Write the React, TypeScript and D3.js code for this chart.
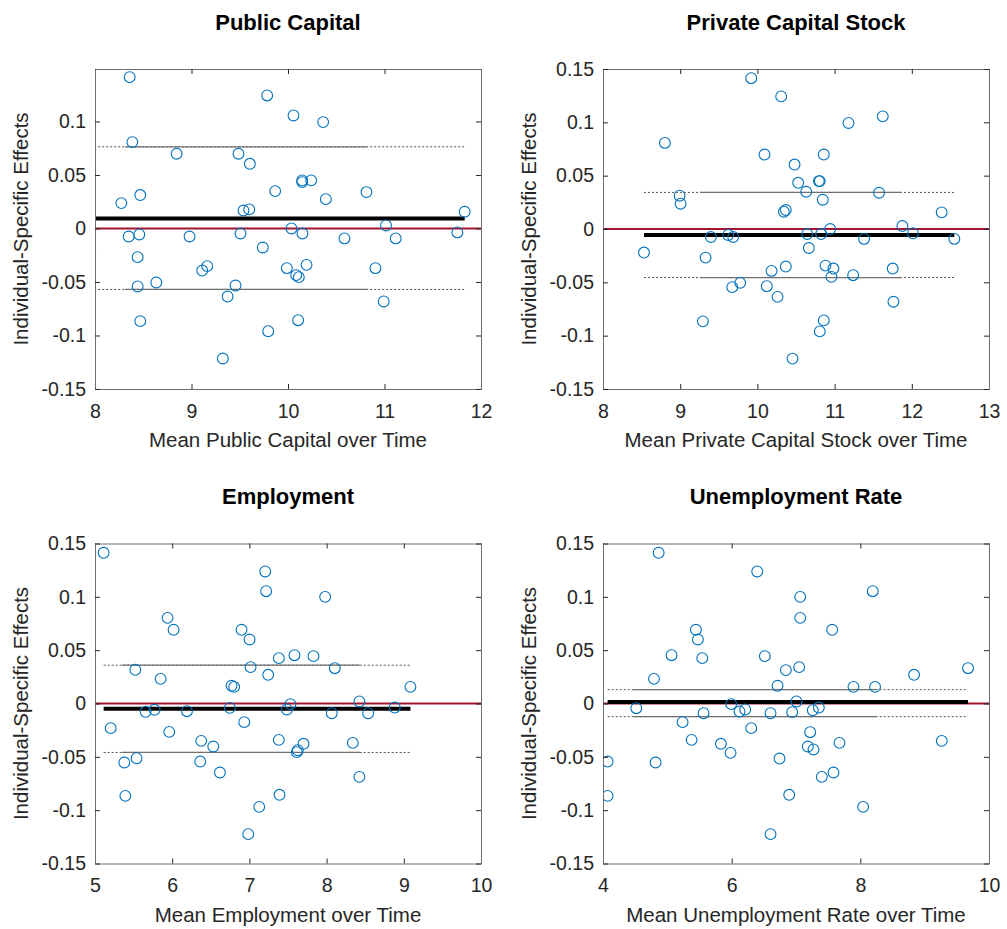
import React, { useEffect, useRef } from 'react'
import * as d3 from 'd3'

// Public Capital panel (last point lies left of the axis limit and is clipped)
const pubCapX = [8.359, 9.784, 10.057, 10.364, 8.387, 8.846, 9.487, 9.605, 10.147, 10.24, 10.147, 9.867, 8.469, 8.273, 10.813, 10.392, 9.539, 9.598, 11.831, 11.016, 10.036, 8.349, 8.459, 8.98, 9.508, 10.15, 10.585, 11.116, 11.755, 9.739, 8.442, 9.111, 9.163, 9.988, 10.192, 10.085, 10.112, 10.906, 8.635, 8.442, 9.456, 9.374, 10.992, 8.469, 10.105, 9.795, 9.325, 7.95]
const pubCapY = [0.1414, 0.1243, 0.1056, 0.0994, 0.0807, 0.0698, 0.0698, 0.0604, 0.0449, 0.0449, 0.0433, 0.0349, 0.0312, 0.0237, 0.034, 0.0274, 0.0168, 0.0178, 0.0156, 0.0028, 0.0, -0.0075, -0.0056, -0.0075, -0.0047, -0.0047, -0.0093, -0.0093, -0.0037, -0.0178, -0.0268, -0.0393, -0.0352, -0.0371, -0.034, -0.0436, -0.0455, -0.0371, -0.0505, -0.0542, -0.0533, -0.0636, -0.0682, -0.0866, -0.0857, -0.096, -0.1215, -0.0221]

const privCapX = [9.92, 10.308, 11.18, 11.624, 8.802, 10.092, 10.86, 10.481, 10.528, 10.796, 10.808, 10.632, 10.847, 11.576, 8.992, 9.005, 10.343, 10.368, 12.387, 11.878, 10.942, 12.016, 9.398, 9.622, 9.687, 10.645, 10.826, 11.382, 12.551, 8.531, 10.666, 9.329, 10.183, 10.368, 10.882, 10.985, 10.959, 11.24, 11.753, 9.777, 9.674, 10.122, 10.261, 11.762, 9.294, 10.86, 10.808, 10.455]
const privCapY = [0.1414, 0.1243, 0.0994, 0.1056, 0.0807, 0.0698, 0.0698, 0.0604, 0.0433, 0.0449, 0.0449, 0.0349, 0.0274, 0.034, 0.0312, 0.0237, 0.0162, 0.0178, 0.0156, 0.0028, 0.0, -0.004, -0.0075, -0.0056, -0.0075, -0.0047, -0.0047, -0.0093, -0.0093, -0.0221, -0.0178, -0.0268, -0.0393, -0.0352, -0.0343, -0.0371, -0.0449, -0.0433, -0.0371, -0.0505, -0.0545, -0.0536, -0.0636, -0.0682, -0.0866, -0.0857, -0.096, -0.1215]

const emplX = [5.112, 7.205, 7.217, 7.981, 5.94, 6.018, 6.898, 7.002, 7.381, 7.584, 7.83, 7.015, 7.243, 8.106, 5.522, 5.85, 6.769, 6.803, 9.086, 8.425, 7.532, 8.883, 5.656, 5.772, 6.191, 6.747, 7.485, 8.067, 8.538, 5.203, 6.933, 5.962, 6.376, 6.532, 7.381, 7.701, 7.614, 7.627, 8.339, 5.539, 5.38, 6.363, 6.618, 8.425, 5.393, 7.39, 7.127, 6.985]
const emplY = [0.1413, 0.1238, 0.1053, 0.1, 0.0803, 0.0691, 0.0691, 0.06, 0.0425, 0.0453, 0.0444, 0.0341, 0.0269, 0.0331, 0.0316, 0.0231, 0.0166, 0.0156, 0.0156, 0.0019, -0.0006, -0.0038, -0.0078, -0.0059, -0.0072, -0.0041, -0.0056, -0.0091, -0.0091, -0.0231, -0.0175, -0.0266, -0.035, -0.0403, -0.0341, -0.0378, -0.0456, -0.0438, -0.0369, -0.0513, -0.0553, -0.0544, -0.0647, -0.0688, -0.0866, -0.0856, -0.0969, -0.1225]

const unempX = [4.865, 6.397, 7.065, 8.193, 7.065, 5.444, 7.562, 5.475, 5.543, 5.066, 6.516, 7.049, 6.842, 8.835, 9.674, 4.792, 6.713, 7.893, 8.229, 7.008, 5.993, 4.518, 5.563, 6.122, 6.21, 6.604, 6.94, 7.261, 7.355, 5.237, 6.304, 5.377, 5.833, 5.983, 7.22, 7.184, 7.272, 7.676, 9.265, 4.072, 4.818, 6.744, 7.583, 7.401, 4.072, 6.894, 8.043, 6.604]
const unempY = [0.1413, 0.1238, 0.1, 0.1053, 0.0803, 0.0691, 0.0691, 0.06, 0.0425, 0.0453, 0.0444, 0.0341, 0.0313, 0.0269, 0.0331, 0.0231, 0.0166, 0.0156, 0.0156, 0.0019, -0.0006, -0.0044, -0.0091, -0.0075, -0.0056, -0.0091, -0.0081, -0.0063, -0.0038, -0.0175, -0.0231, -0.0341, -0.0378, -0.0463, -0.0269, -0.0403, -0.0431, -0.0369, -0.035, -0.0544, -0.0553, -0.0516, -0.0647, -0.0688, -0.0866, -0.0856, -0.0969, -0.1225]

const titles = ['Public Capital', 'Private Capital Stock', 'Employment', 'Unemployment Rate']
const xLabels = ['Mean Public Capital over Time', 'Mean Private Capital Stock over Time', 'Mean Employment over Time', 'Mean Unemployment Rate over Time']
const yLabel = 'Individual-Specific Effects'

const xDomains = [[8, 12], [8, 13], [5, 10], [4, 10]]
const xTicks = [[8, 9, 10, 11, 12], [8, 9, 10, 11, 12, 13], [5, 6, 7, 8, 9, 10], [4, 6, 8, 10]]
const yDomains = [[-0.15, 0.149], [-0.15, 0.15], [-0.15, 0.15], [-0.15, 0.15]]
const yTicks = [
  [-0.15, -0.1, -0.05, 0, 0.05, 0.1],
  [-0.15, -0.1, -0.05, 0, 0.05, 0.1, 0.15],
  [-0.15, -0.1, -0.05, 0, 0.05, 0.1, 0.15],
  [-0.15, -0.1, -0.05, 0, 0.05, 0.1, 0.15],
]

// mean effect and the band around it
const meanEffect = [0.0093, -0.0056, -0.005, 0.0014]
const upperBand = [0.0763, 0.0343, 0.0359, 0.013]
const lowerBand = [-0.057, -0.0455, -0.0459, -0.0123]
const solidFrom = [8.31, 9.26, 5.35, 4.47]
const solidTo = [10.82, 11.87, 8.43, 8.25]

const xs = [pubCapX, privCapX, emplX, unempX]
const ys = [pubCapY, privCapY, emplY, unempY]

const W = 1007
const H = 929
const FONT = '"Liberation Sans", Arial, Helvetica, sans-serif'
const boxes = [
  { left: 95, right: 481, top: 69, bottom: 389 },
  { left: 603, right: 989, top: 69, bottom: 389 },
  { left: 95, right: 481, top: 543.5, bottom: 863.5 },
  { left: 603, right: 989, top: 543.5, bottom: 863.5 },
]

const fmt = (d: any) => String(+d)

const App = () => {
  const svgRef = useRef<SVGSVGElement>(null)

  useEffect(() => {
    if (!svgRef.current) return
    const svg = d3.select(svgRef.current)
    svg.selectAll('*').remove()
    const defs = svg.append('defs')

    boxes.forEach((b, i) => {
      const x = d3.scaleLinear().domain(xDomains[i]).range([b.left, b.right])
      const y = d3.scaleLinear().domain(yDomains[i]).range([b.bottom, b.top])
      const px = xs[i]
      const py = ys[i]
      const [x0, x1] = d3.extent(px) as [number, number]

      defs.append('clipPath').attr('id', `clip${i}`)
        .append('rect')
        .attr('x', b.left).attr('y', b.top)
        .attr('width', b.right - b.left).attr('height', b.bottom - b.top)

      const g = svg.append('g')
      const plot = g.append('g').attr('clip-path', `url(#clip${i})`)

      // band lines: dotted over the full range, solid over the middle part
      ;[upperBand[i], lowerBand[i]].forEach(v => {
        plot.append('line')
          .attr('x1', x(x0)).attr('x2', x(x1))
          .attr('y1', y(v)).attr('y2', y(v))
          .attr('stroke', '#555')
          .attr('stroke-width', 1)
          .attr('stroke-dasharray', '2,2')
        plot.append('line')
          .attr('x1', x(solidFrom[i])).attr('x2', x(solidTo[i]))
          .attr('y1', y(v)).attr('y2', y(v))
          .attr('stroke', '#707070')
          .attr('stroke-width', 1.2)
      })

      plot.append('line')
        .attr('x1', b.left).attr('x2', b.right)
        .attr('y1', y(0)).attr('y2', y(0))
        .attr('stroke', '#A2142F')
        .attr('stroke-width', 2)

      plot.append('line')
        .attr('x1', x(x0)).attr('x2', x(x1))
        .attr('y1', y(meanEffect[i])).attr('y2', y(meanEffect[i]))
        .attr('stroke', '#000')
        .attr('stroke-width', 4)

      plot.selectAll('circle')
        .data(d3.range(px.length))
        .join('circle')
        .attr('cx', k => x(px[k]))
        .attr('cy', k => y(py[k]))
        .attr('r', 5.4)
        .attr('fill', 'none')
        .attr('stroke', '#0072BD')
        .attr('stroke-width', 1.1)

      // axes, ticks pointing inward on all four sides
      const styleAxis = (sel: any) => {
        sel.attr('font-family', FONT).attr('font-size', 19.5)
        sel.select('.domain').attr('stroke', '#6e6e6e')
        sel.selectAll('.tick line').attr('stroke', '#262626')
        sel.selectAll('.tick text').attr('fill', '#262626')
      }
      g.append('g')
        .attr('transform', `translate(0,${b.bottom})`)
        .call(d3.axisBottom(x).tickValues(xTicks[i]).tickSizeInner(-5).tickSizeOuter(0).tickPadding(15).tickFormat(fmt))
        .call(styleAxis)
      g.append('g')
        .attr('transform', `translate(0,${b.top})`)
        .call(d3.axisTop(x).tickValues(xTicks[i]).tickSizeInner(-5).tickSizeOuter(0).tickFormat(() => ''))
        .call(styleAxis)
      g.append('g')
        .attr('transform', `translate(${b.left},0)`)
        .call(d3.axisLeft(y).tickValues(yTicks[i]).tickSizeInner(-5).tickSizeOuter(0).tickPadding(9).tickFormat(fmt))
        .call(styleAxis)
      g.append('g')
        .attr('transform', `translate(${b.right},0)`)
        .call(d3.axisRight(y).tickValues(yTicks[i]).tickSizeInner(-5).tickSizeOuter(0).tickFormat(() => ''))
        .call(styleAxis)

      const cx = (b.left + b.right) / 2
      const cy = (b.top + b.bottom) / 2

      g.append('text')
        .attr('x', cx).attr('y', b.top - 39.5)
        .attr('text-anchor', 'middle')
        .attr('font-family', FONT)
        .attr('font-size', 22)
        .attr('font-weight', 'bold')
        .attr('fill', '#000')
        .text(titles[i])

      g.append('text')
        .attr('x', cx).attr('y', b.bottom + 58)
        .attr('text-anchor', 'middle')
        .attr('font-family', FONT)
        .attr('font-size', 20.5)
        .attr('fill', '#262626')
        .text(xLabels[i])

      g.append('text')
        .attr('transform', `translate(${b.left - 67},${cy}) rotate(-90)`)
        .attr('text-anchor', 'middle')
        .attr('font-family', FONT)
        .attr('font-size', 20.5)
        .attr('fill', '#262626')
        .text(yLabel)
    })
  }, [])

  return (
    <svg
      ref={svgRef}
      width={W}
      height={H}
      style={{ position: 'absolute', left: 0, top: 0, background: '#fff' }}
    />
  )
}

export default App
